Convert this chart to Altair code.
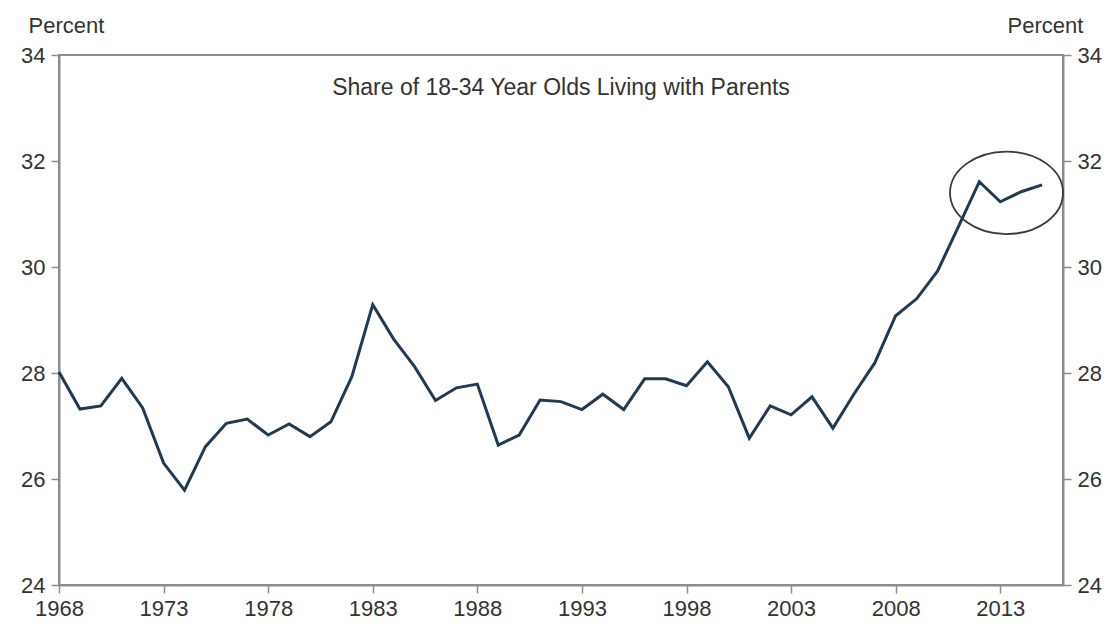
import altair as alt
import pandas as pd

# Share of 18-34 year olds living with parents, percent
years = list(range(1968, 2016))
share = [28.02, 27.32, 27.38, 27.9, 27.34, 26.3, 25.79, 26.61, 27.05, 27.13,
         26.83, 27.04, 26.8, 27.08, 27.93, 29.29, 28.64, 28.12, 27.48, 27.72,
         27.79, 26.64, 26.83, 27.49, 27.46, 27.31, 27.6, 27.31, 27.89, 27.89,
         27.76, 28.21, 27.74, 26.77, 27.38, 27.21, 27.55, 26.96, 27.6, 28.19,
         29.08, 29.4, 29.92, 30.76, 31.61, 31.23, 31.42, 31.55]

x_ticks = [1968, 1973, 1978, 1983, 1988, 1993, 1998, 2003, 2008, 2013]
y_ticks = [24, 26, 28, 30, 32, 34]

# highlight ring around the latest years
ring_year = [2013.3]
ring_share = [31.4]

title_text = "Share of 18-34 Year Olds Living with Parents"

df = pd.DataFrame({"year": years, "share": share})
ring_df = pd.DataFrame({"year": ring_year, "share": ring_share})

FONT = "Liberation Sans"
TEXT = "#333333"
AXIS = "#8c8c8c"

x_scale = alt.Scale(domain=[1968, 2016], nice=False, zero=False)
y_scale = alt.Scale(domain=[24, 34], nice=False, zero=False)

x_enc = alt.X(
    "year:Q", scale=x_scale,
    axis=alt.Axis(values=x_ticks, format="d", title=None, grid=False,
                  domainColor=AXIS, domainWidth=2, tickColor=AXIS,
                  tickWidth=1.5, tickSize=8, labelPadding=5,
                  labelFont=FONT, labelFontSize=22, labelColor=TEXT,
                  labelFlush=False, labelOverlap=False),
)

def y_axis(orient, title_x):
    return alt.Axis(
        orient=orient, values=y_ticks, title="Percent", grid=False,
        domainColor=AXIS, domainWidth=2, tickColor=AXIS, tickWidth=1.5,
        tickSize=8, labelPadding=6, labelFont=FONT, labelFontSize=22,
        labelColor=TEXT, labelFlush=False, labelOverlap=False,
        titleAngle=0, titleAlign="left", titleBaseline="middle",
        titleX=title_x, titleY=-30, titleFont=FONT, titleFontSize=22,
        titleFontWeight="normal", titleColor=TEXT,
    )

line = alt.Chart(df).mark_line(color="#213a53", strokeWidth=3).encode(
    x=x_enc,
    y=alt.Y("share:Q", scale=y_scale, axis=y_axis("left", -31)),
)

right_axis = alt.Chart(df).mark_line(opacity=0).encode(
    x=x_enc,
    y=alt.Y("share:Q", scale=y_scale, axis=y_axis("right", -56)),
)

ring = alt.Chart(ring_df).mark_point(
    shape="M -1 0 A 1 0.73 0 1 1 1 0 A 1 0.73 0 1 1 -1 0 Z",
    size=113 * 113, filled=False, stroke="#3a3a3a", strokeWidth=1.8,
    opacity=1,
).encode(
    x=x_enc,
    y=alt.Y("share:Q", scale=y_scale, axis=None),
)

heading = alt.Chart(pd.DataFrame({"t": [title_text]})).mark_text(
    font=FONT, fontSize=23, color=TEXT, align="center", baseline="middle",
).encode(
    text="t:N", x=alt.value(502), y=alt.value(33),
)

chart = (
    alt.layer(line, right_axis, ring, heading)
    .resolve_scale(y="independent")
    .properties(
        width=1004, height=530,
        autosize=alt.AutoSizeParams(type="none"),
        padding={"left": 59, "top": 55, "right": 47, "bottom": 39},
        background="white",
    )
    .configure_view(stroke=AXIS, strokeWidth=2)
)

chart.save("out.html", embed_options={"renderer": "svg", "actions": False})
